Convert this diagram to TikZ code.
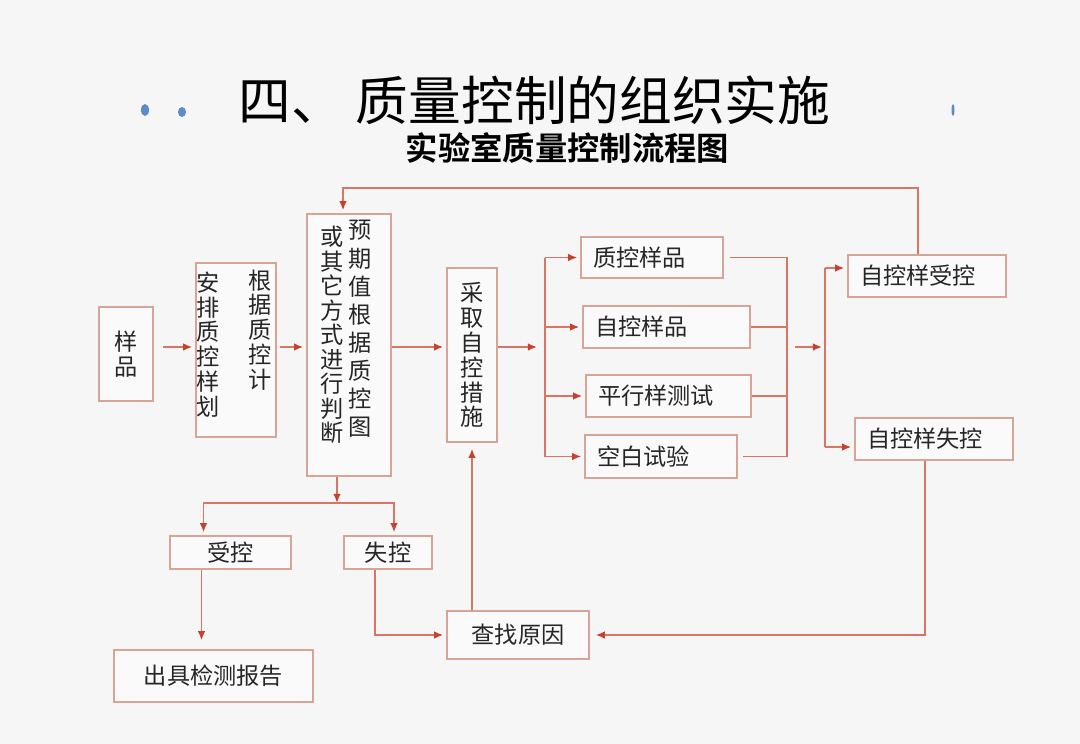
\documentclass[tikz,border=0pt]{standalone}
\usepackage{fontspec}
\usetikzlibrary{arrows.meta}
\newfontfamily\cjk{Noto Sans CJK SC}[BoldFont={Noto Sans CJK SC Bold}]
\definecolor{bgcol}{HTML}{F6F6F6}
\definecolor{boxcol}{HTML}{D6A595}
\definecolor{linecol}{HTML}{D87565}
\definecolor{tipcol}{HTML}{C8412F}
\definecolor{txtcol}{HTML}{262626}
\definecolor{dotblue}{HTML}{5B8CC8}
\newlength\px
\setlength\px{0.025cm}
\tikzset{
  flowbox/.style={draw=boxcol, line width=1.1pt, fill=bgcol!50!white, text=txtcol,
    inner sep=0pt, align=center, font=\cjk\fontsize{16.5}{17.7}\selectfont},
  lbox/.style={flowbox, align=left, inner xsep=12*\px, text width=#1},
  vtext/.style={align=center, inner sep=0pt, text=txtcol, font=\cjk\fontsize{16.5}{#1}\selectfont},
  link/.style={draw=linecol, line width=1.2pt},
  flow/.style={link, -{Latex[length=6.5pt,width=5.5pt,color=tipcol]}, shorten >=3*\px},
}

\begin{document}
\begin{tikzpicture}[x=0.025cm, y=-0.025cm]
  \useasboundingbox (0,0) rectangle (1080,744);
  \fill[bgcol] (0,0) rectangle (1080,744);

  % Heading
  \fill[dotblue] (145,110) ellipse [x radius=4*\px, y radius=6*\px];
  \fill[dotblue] (182,112) ellipse [x radius=4*\px, y radius=5*\px];
  \fill[dotblue] (953,110) ellipse [x radius=1.5*\px, y radius=6*\px];
  \node[text=black, font=\cjk\fontsize{37.5}{40}\selectfont] (title) at (534.5,100) {四、 质量控制的组织实施};
  \node[text=black, font=\cjk\bfseries\fontsize{23}{25}\selectfont] (subtitle) at (567.5,148) {实验室质量控制流程图};

  % Main row
  \node[flowbox, minimum width=54*\px, minimum height=94*\px] (sample) at (126,354) {样\\品};
  \node[flowbox, minimum width=80*\px, minimum height=174*\px] (plan) at (236,350) {};
  \node[vtext=17.7] (planr) at (260,330) {根\\据\\质\\控\\计};
  \node[vtext=17.7] (planl) at (208,344.5) {安\\排\\质\\控\\样\\划};
  \node[flowbox, minimum width=84*\px, minimum height=262*\px] (judge) at (349,345) {};
  \node[vtext=20] (judger) at (360,329) {预\\期\\值\\根\\据\\质\\控\\图};
  \node[vtext=17.4] (judgel) at (332,335) {或\\其\\它\\方\\式\\进\\行\\判\\断};
  \node[flowbox, minimum width=50*\px, minimum height=174*\px] (measure) at (472,355) {采\\取\\自\\控\\措\\施};

  % Self-control checks
  \node[lbox=118*\px, minimum height=41*\px] (qcs) at (652,257.5) {质控样品};
  \node[lbox=143*\px, minimum height=42*\px] (selfs) at (666.5,327) {自控样品};
  \node[lbox=141*\px, minimum height=42*\px] (para) at (668.5,396) {平行样测试};
  \node[lbox=128*\px, minimum height=43*\px] (blank) at (661,456.5) {空白试验};
  \node[lbox=134*\px, minimum height=42*\px] (ok) at (927,276) {自控样受控};
  \node[lbox=134*\px, minimum height=42*\px] (fail) at (934,439) {自控样失控};

  % Outcomes
  \node[flowbox, minimum width=121*\px, minimum height=33*\px] (accept) at (230.5,552.5) {受控};
  \node[flowbox, minimum width=88*\px, minimum height=33*\px] (reject) at (388,552.5) {失控};
  \node[flowbox, minimum width=199*\px, minimum height=52*\px] (report) at (213.5,676) {出具检测报告};
  \node[flowbox, minimum width=142*\px, minimum height=48*\px] (cause) at (518,635) {查找原因};

  % Connectors
  \coordinate (row) at (0,347);
  \draw[flow, shorten <=9*\px] (sample.east |- row) -- (plan.west |- row);
  \draw[flow, shorten <=3*\px] (plan.east |- row) -- (judge.west |- row);
  \draw[flow] (judge.east |- row) -- (measure.west |- row);
  \coordinate (split) at (545,347);
  \draw[flow, shorten >=8*\px] (measure.east |- row) -- (split);
  \draw[link] (split |- qcs.west) -- (split |- blank.west);
  \foreach \target in {qcs,selfs,para,blank}
    \draw[flow] (split |- \target.west) -- (\target.west);

  \coordinate (merge) at (787,347);
  \draw[link, shorten <=6*\px, shorten >=5*\px] (qcs.east) -- (merge |- qcs.east) -- (merge |- blank.east) -- (blank.east);
  \draw[link] (selfs.east) -- (merge |- selfs.east);
  \draw[link] (para.east) -- (merge |- para.east);
  \coordinate (fork) at (825,347);
  \draw[flow, shorten <=8*\px] (merge) -- (fork);
  \coordinate (okin) at ([yshift=8*\px]ok.west);
  \coordinate (failin) at ([yshift=-8*\px]fail.west);
  \draw[link] (fork |- okin) -- (fork |- failin);
  \draw[flow] (fork |- okin) -- (okin);
  \draw[flow] (fork |- failin) -- (failin);

  % Feedback loops
  \coordinate (top) at (0,188);
  \coordinate (okup) at ([xshift=-9*\px]ok.north);
  \coordinate (judgein) at ([xshift=-6*\px]judge.north);
  \draw[flow] (okup) -- (okup |- top) -- (judgein |- top) -- (judgein);
  \coordinate (failout) at ([xshift=-9*\px]fail.south);
  \draw[flow, shorten >=6*\px] (failout) |- (cause.east);
  \draw[flow, shorten >=6*\px] (measure.south |- cause.north) -- (measure.south);

  % Judgement outcomes
  \coordinate (judgeout) at ([xshift=-12*\px]judge.south);
  \coordinate (junction) at (337,503);
  \draw[flow, shorten >=0pt] (judgeout) -- (junction);
  \coordinate (acceptin) at ([xshift=-27*\px]accept.north);
  \coordinate (rejectin) at ([xshift=6*\px]reject.north);
  \draw[flow] (junction) -| (acceptin);
  \draw[flow] (junction) -| (rejectin);
  \coordinate (acceptout) at ([xshift=-29*\px]accept.south);
  \draw[flow, shorten >=9*\px] (acceptout) -- (acceptout |- report.north);
  \coordinate (rejectout) at ([xshift=-13*\px]reject.south);
  \draw[flow] (rejectout) |- (cause.west);
\end{tikzpicture}
\end{document}
